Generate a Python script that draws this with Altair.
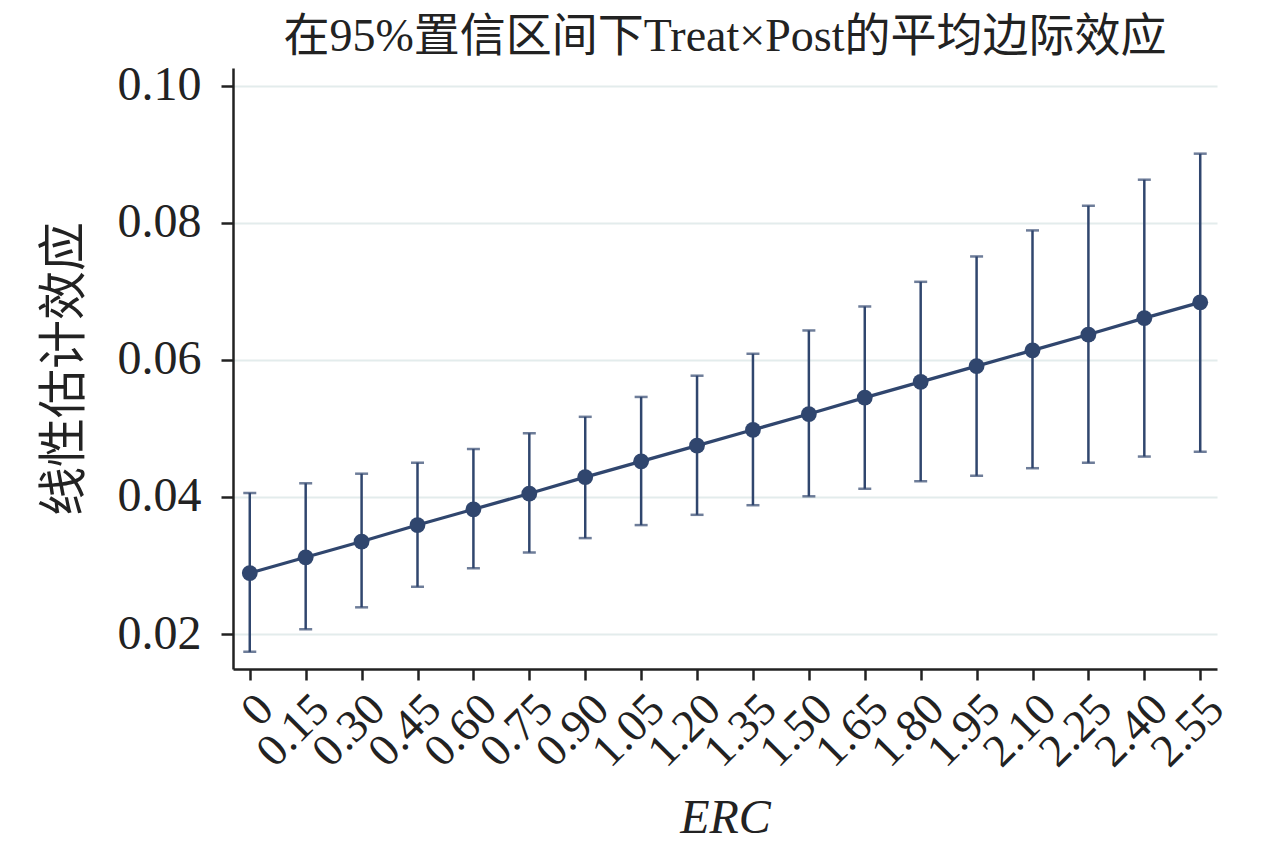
import altair as alt
import pandas as pd

erc_labels = ["0", "0.15", "0.30", "0.45", "0.60", "0.75", "0.90", "1.05", "1.20",
              "1.35", "1.50", "1.65", "1.80", "1.95", "2.10", "2.25", "2.40", "2.55"]
margin = [0.0289, 0.0312, 0.0335, 0.0359, 0.0382, 0.0405, 0.0429, 0.0452, 0.0475,
          0.0498, 0.0521, 0.0545, 0.0568, 0.0591, 0.0614, 0.0637, 0.0661, 0.0684]
upper = [0.0406, 0.0420, 0.0434, 0.0450, 0.0470, 0.0493, 0.0517, 0.0546, 0.0577,
         0.0609, 0.0643, 0.0678, 0.0714, 0.0751, 0.0789, 0.0825, 0.0863, 0.0901]
lower = [0.0174, 0.0207, 0.0239, 0.0269, 0.0296, 0.0319, 0.0340, 0.0359, 0.0374,
         0.0388, 0.0401, 0.0412, 0.0423, 0.0431, 0.0442, 0.0450, 0.0459, 0.0466]
y_ticks = [0.02, 0.04, 0.06, 0.08, 0.10]

df = pd.DataFrame({"erc": erc_labels, "m": margin, "hi": upper, "lo": lower})

COLOR = "#30466e"
FONT = "Liberation Serif, Noto Sans CJK SC"

x_enc = alt.X("erc:N", sort=erc_labels,
              scale=alt.Scale(type="point", padding=0.3),
              axis=alt.Axis(title="ERC", titleFontStyle="italic", labelAngle=315,
                            labelFontSize=46, titleFontSize=48, grid=False,
                            tickSize=11, labelPadding=6, titlePadding=20))
y_scale = alt.Scale(domain=[0.0149, 0.1026], nice=False, zero=False)
y_axis = alt.Axis(title="线性估计效应", values=y_ticks, format=".2f",
                  labelFontSize=48, titleFontSize=49, tickSize=12,
                  labelPadding=20, titlePadding=28, grid=True)

base = alt.Chart(df)

bars = base.mark_rule(color=COLOR, strokeWidth=2.5).encode(
    x=x_enc,
    y=alt.Y("lo:Q", scale=y_scale, axis=y_axis),
    y2="hi:Q",
)
cap_hi = base.mark_tick(color=COLOR, orient="horizontal", size=13, thickness=2.5).encode(
    x=alt.X("erc:N", sort=erc_labels), y=alt.Y("hi:Q"))
cap_lo = base.mark_tick(color=COLOR, orient="horizontal", size=13, thickness=2.5).encode(
    x=alt.X("erc:N", sort=erc_labels), y=alt.Y("lo:Q"))
line = base.mark_line(color=COLOR, strokeWidth=3.2).encode(
    x=alt.X("erc:N", sort=erc_labels), y=alt.Y("m:Q"))
pts = base.mark_circle(color=COLOR, size=250, opacity=1).encode(
    x=alt.X("erc:N", sort=erc_labels), y=alt.Y("m:Q"))

chart = alt.layer(bars, cap_hi, cap_lo, line, pts).properties(
    width=984, height=601,
    padding={"left": 32, "top": 5, "right": 5, "bottom": 5},
    title=alt.TitleParams("在95%置信区间下Treat×Post的平均边际效应",
                          fontSize=46, fontWeight="normal", color="#222222",
                          font=FONT, offset=1),
    background="white",
).configure_view(stroke=None).configure_axis(
    labelFont=FONT, titleFont=FONT, labelColor="#222222", titleColor="#222222",
    titleFontWeight="normal", domainColor="#222222", domainWidth=2.5,
    tickColor="#222222", tickWidth=2.5, gridColor="#e3ecec", gridWidth=2,
)

chart.save("out.html", embed_options={"renderer": "svg", "actions": False})
